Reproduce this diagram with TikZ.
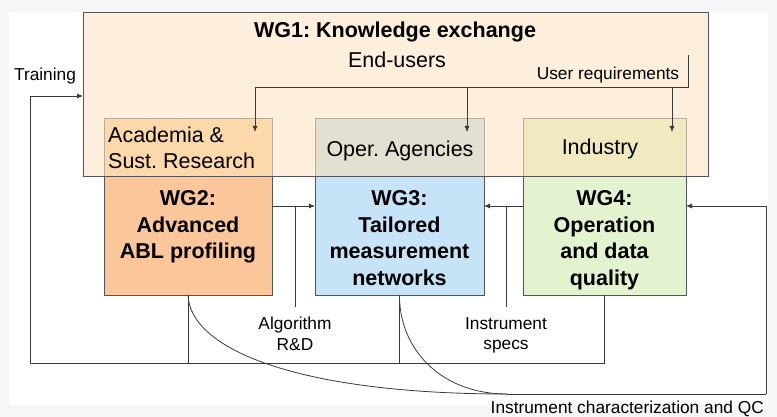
\documentclass[tikz,border=0pt]{standalone}
\usepackage{fontspec}
\setmainfont{Liberation Sans}
\frenchspacing
\usetikzlibrary{arrows.meta,calc}
\definecolor{bgout}{HTML}{F6F6F6}
\definecolor{wgonefill}{HTML}{FDEFDB}
\definecolor{acadfill}{HTML}{FCD8AB}
\definecolor{operfill}{HTML}{E3E0D1}
\definecolor{indfill}{HTML}{F1EAC1}
\definecolor{wgtwofill}{HTML}{FBC699}
\definecolor{wgthreefill}{HTML}{C7E3F8}
\definecolor{wgfourfill}{HTML}{E3F2CF}
\definecolor{boxline}{HTML}{555555}
\definecolor{softline}{HTML}{B8AE9E}
\definecolor{connclr}{HTML}{3A3A3A}
\begin{document}
\begin{tikzpicture}[x=1pt,y=-1pt,
  rectnode/.style={rectangle, inner sep=0pt, outer sep=0pt},
  userbox/.style={rectnode, draw=softline, line width=0.8pt, minimum height=59pt},
  wgbox/.style={rectnode, draw=boxline, line width=1pt, minimum height=118pt},
  conn/.style={draw=connclr, line width=0.8pt},
  arr/.style={conn, -{Latex[length=6pt,width=5pt]}},
  bodytext/.style={inner sep=0pt, font=\fontsize{21.5}{25.5}\selectfont\frenchspacing},
  wgtext/.style={inner sep=0pt, align=center, font=\fontsize{21.5}{26.5}\selectfont\bfseries\frenchspacing},
  lbl/.style={inner sep=0pt, align=center, font=\fontsize{17.3}{20.5}\selectfont\frenchspacing}]
\useasboundingbox (0,0) rectangle (777,417);
\fill[bgout] (0,0) rectangle (777,417);
\fill[white] (9,12) rectangle (768,405);

% WG1 container
\node[rectnode, fill=wgonefill, minimum width=625pt, minimum height=164pt] (wg1) at (395.5,95) {};
\node[bodytext, font=\fontsize{21.5}{26}\selectfont\bfseries\frenchspacing, anchor=base] (wg1t) at (395,38) {WG1: Knowledge exchange};
\node[bodytext, anchor=base] (endu) at (397,68) {End-users};

% end-user boxes
\node[userbox, fill=acadfill, minimum width=168pt] (acad) at (188,147.5) {};
\node[userbox, fill=operfill, minimum width=169pt] (oper) at (399.5,147.5) {};
\node[userbox, fill=indfill, minimum width=163pt] (ind) at (604.5,147.5) {};
\draw[boxline, line width=1pt] (wg1.north west) rectangle (wg1.south east);

\node[bodytext, align=left, anchor=north west] (acadt) at (108,127) {Academia \&\\Sust. Research};
\node[bodytext, anchor=base] (opert) at (400,157) {Oper. Agencies};
\node[bodytext, anchor=base] (indt) at (600,155) {Industry};

% working group boxes
\node[wgbox, fill=wgtwofill, minimum width=168pt] (wg2) at (188,236) {};
\node[wgbox, fill=wgthreefill, minimum width=169pt] (wg3) at (399.5,236) {};
\node[wgbox, fill=wgfourfill, minimum width=163pt] (wg4) at (604.5,236) {};
\node[wgtext, anchor=north] (wg2t) at ([yshift=-13.5pt]wg2.north) {WG2:\\Advanced\\ABL profiling};
\node[wgtext, anchor=north] (wg3t) at ([yshift=-13.5pt]wg3.north) {WG3:\\Tailored\\measurement\\networks};
\node[wgtext, anchor=north] (wg4t) at ([yshift=-13.5pt]wg4.north) {WG4:\\Operation\\and data\\quality};

% user requirements
\coordinate (urtop) at (688,55);
\coordinate (urcorner) at (688,87);
\coordinate (urleft) at (255,87);
\draw[conn] (urtop) -- (urcorner) -- (urleft);
\draw[arr] (urleft) -- ($(acad.north east)+(-17,14)$);
\draw[arr] ($(oper.north east)+(-17,-31)$) -- ($(oper.north east)+(-17,14)$);
\draw[arr] ($(ind.north east)+(-14,-31)$) -- ($(ind.north east)+(-14,14)$);
\node[lbl, anchor=base] (urt) at (608,80) {User requirements};

% algorithm R&D
\draw[arr] ($(wg2.north east)+(0,29)$) -- ($(wg3.north west)+(0,29)$);
\node[lbl, anchor=north] (alg) at (295,317) {Algorithm\\R\&D};
\draw[conn] ($(wg2.north east)+(23,29)$) -- ($(alg.north)+(0,-10)$);

% instrument specs
\draw[arr] ($(wg4.north west)+(0,29)$) -- ($(wg3.north east)+(0,29)$);
\node[lbl, anchor=north] (spec) at (506,317) {Instrument\\specs};
\draw[conn] ($(wg3.north east)+(22,29)$) -- ($(spec.north)+(0,-10)$);

% training loop
\coordinate (trl) at (30,363);
\draw[conn] (wg4.south) |- (trl);
\draw[conn] (wg2.south) -- (wg2.south |- trl);
\draw[conn] (wg3.south) -- (wg3.south |- trl);
\draw[arr] (trl) |- ([yshift=-1pt]wg1.west);
\node[lbl, anchor=base] (train) at (45,81) {Training};

% instrument characterization and QC
\coordinate (qcjoin) at (507,394);
\coordinate (qcend) at (766,394);
\draw[conn] (wg2.south) .. controls (190,350) and (300,394) .. (qcjoin);
\draw[conn] (wg3.south) .. controls (399,348) and (440,394) .. (qcjoin);
\draw[conn] (qcjoin) -- (qcend);
\draw[arr] (qcend) |- ($(wg4.north east)+(0,29)$);
\node[lbl, anchor=base east] (qct) at (764,413) {Instrument characterization and QC};
\end{tikzpicture}
\end{document}
